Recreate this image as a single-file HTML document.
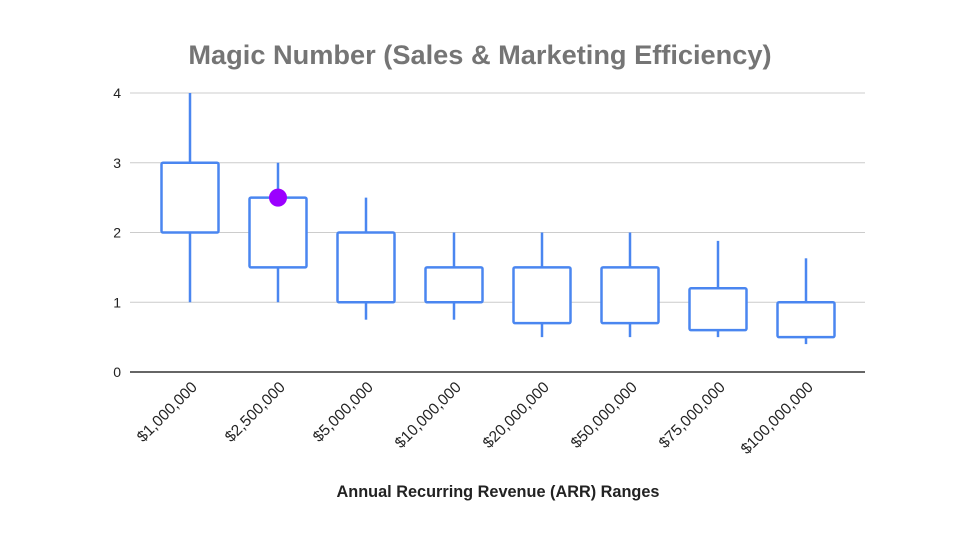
<!DOCTYPE html>
<html><head><meta charset="utf-8"><style>
body{margin:0;background:#fff;}
svg{display:block;font-family:"Liberation Sans",Arial,sans-serif;}
</style></head><body>
<svg width="960" height="540" viewBox="0 0 960 540">
<text x="480" y="64" text-anchor="middle" font-size="27.2" font-weight="bold" fill="#757575">Magic Number (Sales &amp; Marketing Efficiency)</text>
<g id="grid"></g>
<g id="marks"></g>
<g id="xlabels"></g>
<text x="498" y="497" text-anchor="middle" font-size="16.3" font-weight="bold" fill="#222">Annual Recurring Revenue (ARR) Ranges</text>
</svg>
<script>
const categories=["$1,000,000","$2,500,000","$5,000,000","$10,000,000","$20,000,000","$50,000,000","$75,000,000","$100,000,000"];
const lows=[1,1,0.75,0.75,0.5,0.5,0.5,0.4];
const q1s=[2,1.5,1,1,0.7,0.7,0.6,0.5];
const q3s=[3,2.5,2,1.5,1.5,1.5,1.2,1.0];
const highs=[4,3,2.5,2,2,2,1.88,1.63];
const yTicks=[0,1,2,3,4];
const highlightIndex=1;
const highlightValue=2.5;
const NS="http://www.w3.org/2000/svg";
const x0=130,x1=865,y0=372,yTop=93;
const y=v=>y0-(v/4)*(y0-yTop);
const step=88;
const xc=i=>190+step*i;
function mk(tag,attrs,parent){const e=document.createElementNS(NS,tag);for(const k in attrs)e.setAttribute(k,attrs[k]);parent.appendChild(e);return e;}
const grid=document.getElementById('grid'),marks=document.getElementById('marks'),xl=document.getElementById('xlabels');
yTicks.forEach(t=>{
  const l=mk('line',{x1:x0,x2:x1,y1:y(t),y2:y(t),stroke:t===0?'#333':'#ccc','stroke-width':t===0?1.5:1},grid);
  
  
  const tx=mk('text',{x:121,y:y(t)+5,'text-anchor':'end','font-size':14,fill:'#222'},grid);
  tx.textContent=t;
  
  
});
const bw=57;
categories.forEach((c,i)=>{
  const cx=xc(i);
  const g=mk('g',{},marks);
  
  
  mk('line',{x1:cx,x2:cx,y1:y(highs[i]),y2:y(q3s[i]),stroke:'#4a86f0','stroke-width':2.5},g);
  mk('line',{x1:cx,x2:cx,y1:y(q1s[i]),y2:y(lows[i]),stroke:'#4a86f0','stroke-width':2.5},g);
  mk('rect',{x:cx-bw/2,y:y(q3s[i]),width:bw,height:y(q1s[i])-y(q3s[i]),fill:'#fff',stroke:'#4a86f0','stroke-width':2.5,rx:1.5},g);
  const t=mk('text',{'text-anchor':'end','font-size':15.5,fill:'#222',transform:`translate(${cx+8},${388}) rotate(-45)`},xl);
  t.textContent=c;
  
  
});
const dot=mk('circle',{cx:xc(highlightIndex),cy:y(highlightValue),r:9,fill:'#9b00ff'},marks);


</script>
</body></html>
